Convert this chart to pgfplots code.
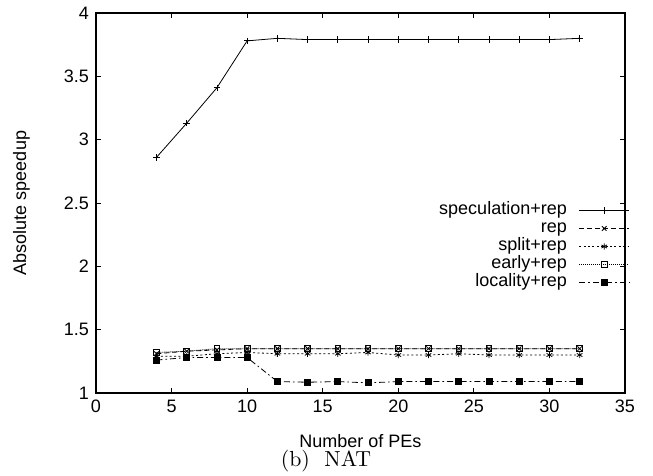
\documentclass[border=0pt]{standalone}
\usepackage{fontspec}
\setsansfont{Liberation Sans}
\usepackage{pgfplots}
\pgfplotsset{compat=1.18}

\begin{document}
\begin{tikzpicture}
\begin{axis}[
  scale only axis,
  width=264.5pt,
  height=190pt,
  xmin=0, xmax=35,
  ymin=1, ymax=4,
  xtick={0,5,...,35},
  ytick={1,1.5,...,4},
  yticklabel style={/pgf/number format/fixed},
  tick align=inside,
  major tick length=2.5pt,
  axis line style={line width=0.6pt},
  tick style={line width=0.4pt,black},
  font=\sffamily\small,
  /pgf/number format/assume math mode=true,
  xlabel={Number of PEs},
  ylabel={Absolute speedup},
  xlabel style={at={(axis description cs:0.5,-0.127)},anchor=center},
  ylabel style={at={(axis description cs:-0.141,0.5)},anchor=center},
  legend plot pos=right,
  legend cell align=right,
  legend style={draw=none,fill=none,inner sep=0pt,
    at={(rel axis cs:1.0095,0.505)},anchor=north east,
    row sep=0pt,column sep=6pt,font=\sffamily\small,
    nodes={inner sep=0pt,text height=6.5pt,text depth=2.5pt}},
  legend image code/.code={%
    \draw[mark repeat=2,mark phase=2] plot coordinates {(0pt,0pt) (12.5pt,0pt) (25pt,0pt)};},
  every axis plot/.append style={line width=0.4pt,black,mark size=1.6pt},
]
\addplot[solid,mark=+] coordinates {
  (4,2.86) (6,3.13) (8,3.41) (10,3.78) (12,3.80) (14,3.79) (16,3.79)
  (18,3.79) (20,3.79) (22,3.79) (24,3.79) (26,3.79) (28,3.79) (30,3.79) (32,3.80)
};
\addplot[dash pattern=on 2.5pt off 1.5pt,mark=x,mark options={solid}] coordinates {
  (4,1.31) (6,1.33) (8,1.34) (10,1.35) (12,1.35) (14,1.35) (16,1.35)
  (18,1.35) (20,1.35) (22,1.35) (24,1.35) (26,1.35) (28,1.35) (30,1.35) (32,1.35)
};
\addplot[dash pattern=on 1pt off 1.2pt,mark=asterisk,mark options={solid}] coordinates {
  (4,1.29) (6,1.29) (8,1.31) (10,1.32) (12,1.31) (14,1.31) (16,1.31)
  (18,1.32) (20,1.30) (22,1.30) (24,1.31) (26,1.30) (28,1.30) (30,1.30) (32,1.30)
};
\addplot[dash pattern=on 0.5pt off 0.5pt,mark=square,mark options={solid,mark size=1.4pt}] coordinates {
  (4,1.32) (6,1.33) (8,1.35) (10,1.35) (12,1.35) (14,1.35) (16,1.35)
  (18,1.35) (20,1.35) (22,1.35) (24,1.35) (26,1.35) (28,1.35) (30,1.35) (32,1.35)
};
\addplot[dash pattern=on 3pt off 1.5pt on 0.8pt off 1.5pt,mark=square*,mark options={solid,mark size=1.5pt}] coordinates {
  (4,1.26) (6,1.28) (8,1.28) (10,1.28) (12,1.09) (14,1.085) (16,1.09)
  (18,1.08) (20,1.09) (22,1.09) (24,1.09) (26,1.09) (28,1.09) (30,1.09) (32,1.09)
};
\legend{speculation+rep,rep,split+rep,early+rep,locality+rep}
\end{axis}
\node[anchor=center,font=\rmfamily\fontsize{10.9}{13}\selectfont] at (115pt,-34pt) {(b)~~NAT};
\pgfresetboundingbox
\path[use as bounding box] (-48pt,-41.5pt) rectangle (278.5pt,196.5pt);
\end{tikzpicture}
\end{document}
